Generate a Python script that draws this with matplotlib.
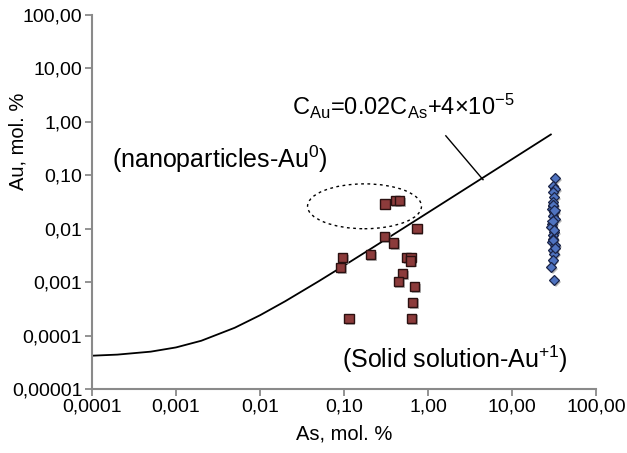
import matplotlib
matplotlib.use('Agg')
import matplotlib.pyplot as plt
import matplotlib.patheffects as pe
from matplotlib.patches import Ellipse

plt.rcParams['font.family'] = ['Liberation Sans', 'DejaVu Sans']
plt.rcParams['mathtext.fontset'] = 'custom'
plt.rcParams['mathtext.rm'] = 'Liberation Sans'
plt.rcParams['mathtext.it'] = 'Liberation Sans'

# fit line C_Au = 0.02 C_As + 4e-5
line_x = [0.0001, 0.0002, 0.0005, 0.001, 0.002, 0.005, 0.01, 0.02, 0.05,
          0.1, 0.2, 0.5, 1, 2, 5, 10, 29]
line_y = [4.2e-5, 4.4e-5, 5.0e-5, 6.0e-5, 8.0e-5, 1.4e-4, 2.4e-4, 4.4e-4, 1.04e-3,
          2.04e-3, 4.04e-3, 1.004e-2, 2.004e-2, 4.004e-2, 0.1, 0.2, 0.58]

# red squares
sq_x = [0.308, 0.408, 0.455, 0.739, 0.305, 0.391, 0.0955, 0.0914, 0.206,
        0.557, 0.628, 0.622, 0.494, 0.443, 0.695, 0.658, 0.114, 0.632]
sq_y = [0.0292, 0.0340, 0.0336, 0.0101, 0.00715, 0.00536, 0.00286, 0.00187, 0.00326,
        0.0029, 0.00286, 0.00248, 0.00144, 0.00104, 0.000824, 0.000415, 0.000211, 0.000211]

# blue diamonds
dm_x = [32.5, 31.0, 32.5, 31.0, 31.6, 30.5, 31.0, 30.2, 31.6, 30.5, 32.5, 30.2,
        29.5, 31.6, 30.5, 31.0, 30.2, 32.5, 31.0, 31.6, 30.5, 29.3, 31.6,
        30.6, 32.0, 30.4, 31.3, 30.8, 32.2]
dm_y = [0.0891, 0.064, 0.0555, 0.048, 0.0387, 0.0312, 0.0271, 0.0235, 0.0203,
        0.0176, 0.0153, 0.0123, 0.0107, 0.00861, 0.00747, 0.00648, 0.0056, 0.00486,
        0.00392, 0.0034, 0.00255, 0.00191, 0.00108,
        0.028, 0.022, 0.014, 0.0095, 0.0062, 0.0044]

x_ticks = [0.0001, 0.001, 0.01, 0.1, 1, 10, 100]
x_labels = ['0,0001', '0,001', '0,01', '0,10', '1,00', '10,00', '100,00']
y_ticks = [0.00001, 0.0001, 0.001, 0.01, 0.1, 1, 10, 100]
y_labels = ['0,00001', '0,0001', '0,001', '0,01', '0,10', '1,00', '10,00', '100,00']

fig = plt.figure(figsize=(6.27, 4.53), dpi=100)
ax = fig.add_axes([92 / 627, 64 / 453, 504 / 627, 374 / 453])

ax.plot(line_x, line_y, color='black', lw=1.3, zorder=2)

shadow = [pe.SimplePatchShadow(offset=(1.2, -1.2), shadow_rgbFace='#999999', alpha=0.7), pe.Normal()]
ax.plot(sq_x, sq_y, ls='none', marker='s', ms=6.8, mfc='#8c3b3b', mec='#2a1010',
        mew=1.0, zorder=3, path_effects=shadow)
ax.plot(dm_x, dm_y, ls='none', marker='D', ms=5.2, mfc='#4f73c0', mec='#1b2447',
        mew=0.9, zorder=3, path_effects=shadow)

# leader line to the formula
ax.plot([1.63, 4.52], [0.548, 0.0828], color='black', lw=1.0, zorder=2)

ax.add_patch(Ellipse((0.5407, 0.4885), 0.226, 0.120, transform=ax.transAxes,
                     fill=False, ls=(0, (2, 2.5)), lw=1.0, color='black'))

ax.set_xscale('log')
ax.set_yscale('log')
ax.set_xlim(0.0001, 100)
ax.set_ylim(0.00001, 100)
ax.set_xticks(x_ticks)
ax.set_xticklabels(x_labels)
ax.set_yticks(y_ticks)
ax.set_yticklabels(y_labels)
ax.minorticks_off()

for s in ['top', 'right']:
    ax.spines[s].set_visible(False)
for s in ['left', 'bottom']:
    ax.spines[s].set_color('#8a8a8a')
    ax.spines[s].set_linewidth(1.5)
ax.tick_params(direction='out', length=5, width=1.3, color='#8a8a8a',
               labelsize=14, pad=2)

ax.set_xlabel('As, mol. %', fontsize=14.5, labelpad=6)
fig.text(18 / 627, 1 - 141 / 453, 'Au, mol. %', rotation=90, fontsize=14.5,
         ha='center', va='center')

ax.text(0.039, 0.590, r'(nanoparticles-Au$^{0}$)', transform=ax.transAxes,
        fontsize=18, ha='left', va='baseline')
ax.text(0.4954, 0.0553, r'(Solid solution-Au$^{+1}$)', transform=ax.transAxes,
        fontsize=18, ha='left', va='baseline')
ax.text(0.839, 0.7326, r'C$_{\mathrm{Au}}$=0.02C$_{\mathrm{As}}$+4$\times$10$^{-5}$',
        transform=ax.transAxes, fontsize=17, ha='right', va='baseline')

fig.savefig('out.png', dpi=100)
